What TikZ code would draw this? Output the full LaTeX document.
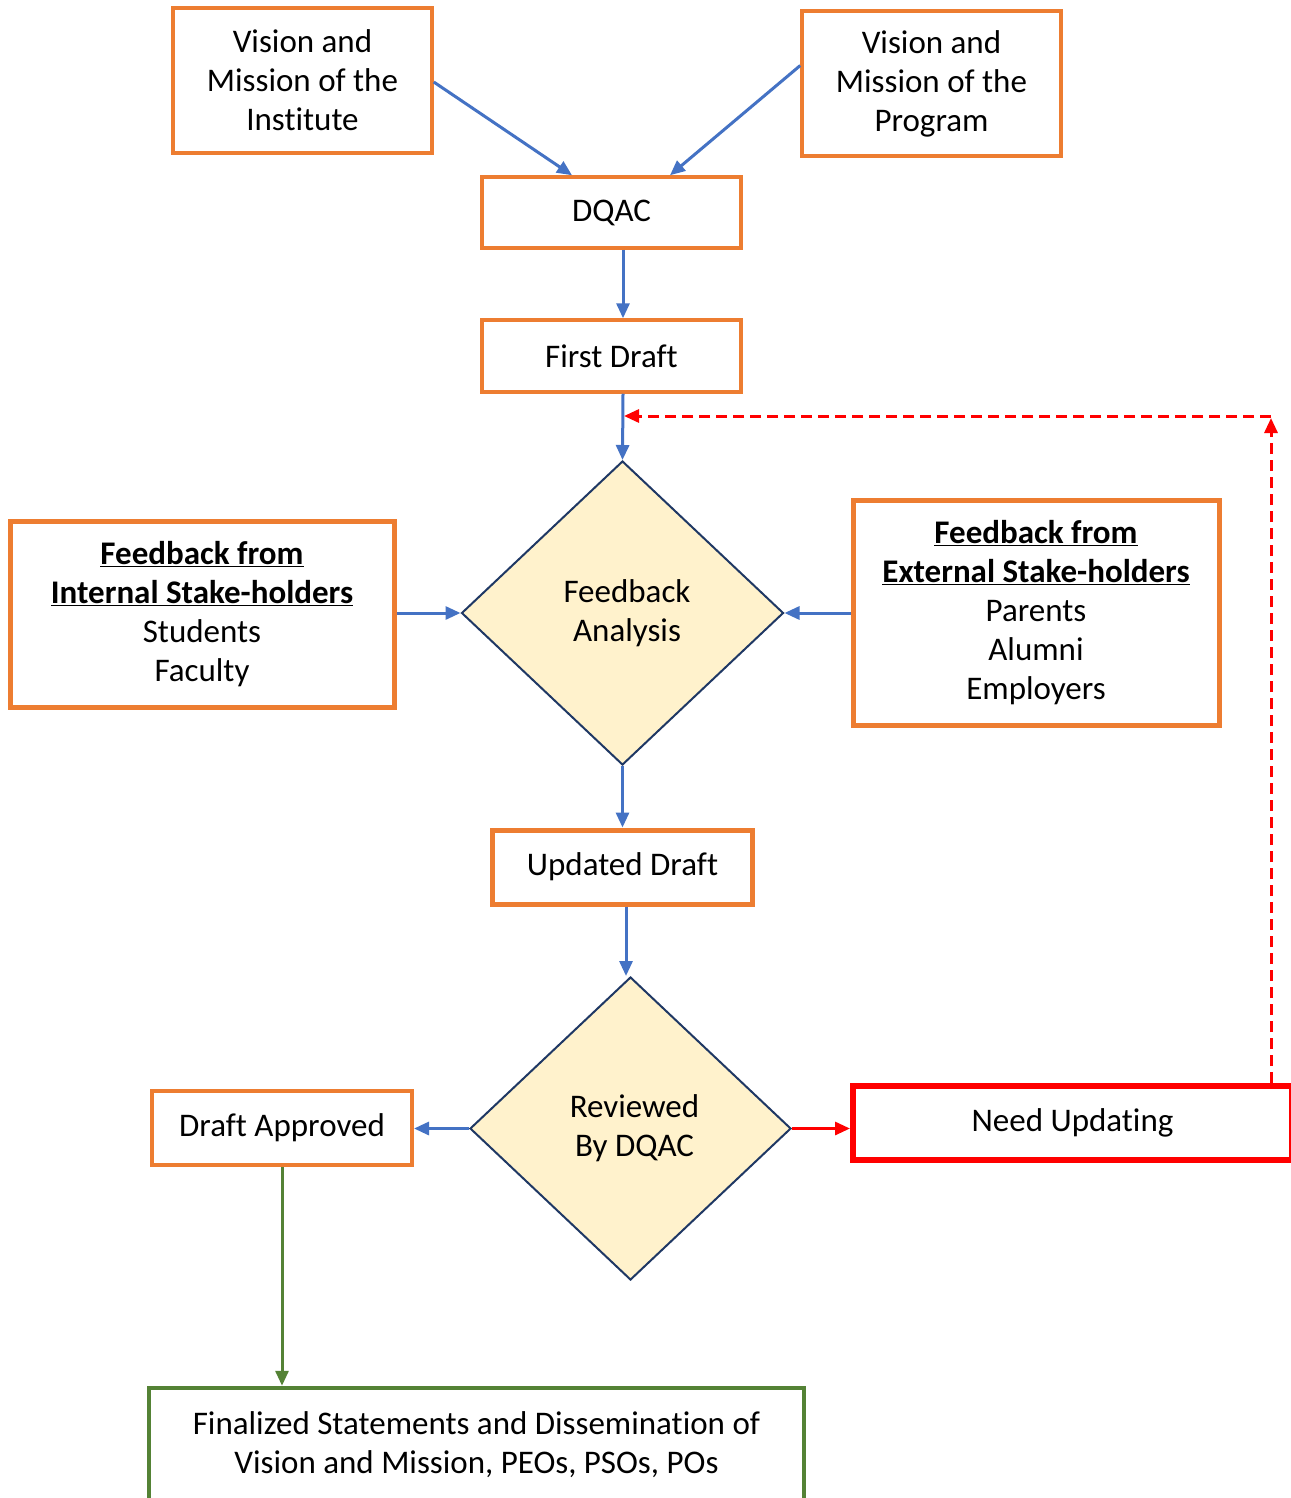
\documentclass[tikz,border=0pt]{standalone}
\usepackage{fontspec}
\setmainfont[Ligatures=NoCommon]{Carlito}
\usetikzlibrary{shapes.geometric,arrows.meta}
\definecolor{orng}{HTML}{ED7D31}
\definecolor{blu}{HTML}{4472C4}
\definecolor{grn}{HTML}{548235}
\definecolor{navy}{HTML}{1F3864}
\definecolor{pale}{HTML}{FFF2CC}
\definecolor{rd}{HTML}{FF0000}
\begin{document}
\begin{tikzpicture}[x=1pt,y=-1pt,
  txt/.style={align=center,inner sep=0pt,font=\fontsize{33}{39}\selectfont},
  box/.style={txt,draw=orng,line width=3.5pt},
  thickbox/.style={box,line width=5pt},
  dec/.style={txt,diamond,draw=navy,line width=2pt,fill=pale},
  tip/.style={-{Triangle[length=15pt,width=13pt]}},
  arr/.style={draw=blu,line width=3pt,tip},
  redarr/.style={draw=rd,line width=3pt,tip},
  reddash/.style={draw=rd,line width=3pt,dash pattern=on 11pt off 6pt,tip},
  grnarr/.style={draw=grn,line width=3pt,tip}]
\useasboundingbox (0,0) rectangle (1290,1498);
\fill[white] (0,0) rectangle (1290,1498);

\node[box,minimum width=259pt,minimum height=145pt] (b1) at (302.5,80.5) {Vision and\\Mission of the\\Institute};
\node[box,minimum width=259pt,minimum height=145pt] (b2) at (931.5,83.5) {Vision and\\Mission of the\\Program};
\node[box,minimum width=259pt,minimum height=71pt] (dqac) at (611.5,212.5) {DQAC};
\node[box,minimum width=259pt,minimum height=72pt] (fd) at (611.5,356) {First Draft};
\node[dec,minimum width=322pt,minimum height=304pt] (d1) at (622.5,613) {\hspace*{9pt}Feedback\\\hspace*{9pt}Analysis};
\node[thickbox,minimum width=384pt,minimum height=186pt] (int) at (202,614) {\underline{\textbf{Feedback from}}\\\underline{\textbf{Internal Stake-holders}}\\Students\\Faculty};
\node[thickbox,minimum width=366pt,minimum height=225pt] (ext) at (1036,612.5) {\underline{\textbf{Feedback from}}\\\underline{\textbf{External Stake-holders}}\\Parents\\Alumni\\Employers};
\node[thickbox,minimum width=260pt,minimum height=74pt] (ud) at (622.5,867) {Updated Draft};
\node[dec,minimum width=321pt,minimum height=303pt] (d2) at (630.5,1128.5) {\hspace*{8pt}Reviewed\\\hspace*{8pt}By DQAC};
\node[thickbox,line width=4pt,minimum width=260pt,minimum height=74pt] (da) at (282,1128) {Draft Approved};
\node[txt,draw=rd,line width=6pt,minimum width=439pt,minimum height=74pt] (nu) at (1072.5,1123) {Need Updating};
\node[txt,draw=grn,line width=4.5pt,minimum width=655pt,minimum height=114pt] (fin) at (476.5,1445) {Finalized Statements and Dissemination of\\Vision and Mission, PEOs, PSOs, POs};

\coordinate (corner) at (1271,416);
\coordinate (join) at (624,416);

\draw[arr] ([yshift=-1.5pt]b1.east) -- ([xshift=-39.5pt]dqac.north);
\draw[arr] ([yshift=18pt]b2.west) -- ([xshift=58.5pt]dqac.north);
\draw[arr] ([xshift=11.5pt]dqac.south) -- ([xshift=11.5pt]fd.north);
\draw[arr] ([xshift=11.5pt]fd.south) -- (d1.north);
\draw[arr] (int.east |- d1.west) -- (d1.west);
\draw[arr] (ext.west |- d1.east) -- (d1.east);
\draw[arr] (d1.south) -- (ud.north);
\draw[arr] ([xshift=3.5pt]ud.south) -- ([xshift=-4.5pt]d2.north);
\draw[arr] (d2.west) -- (d2.west -| da.east);
\draw[redarr] (d2.east) -- (d2.east -| nu.west);
\draw[grnarr] (da.south) -- ([xshift=-194.5pt]fin.north);
\draw[reddash] ([xshift=198.5pt]nu.north) -- ([yshift=-2pt]corner);
\draw[reddash] (corner) -- (join);
\end{tikzpicture}
\end{document}
